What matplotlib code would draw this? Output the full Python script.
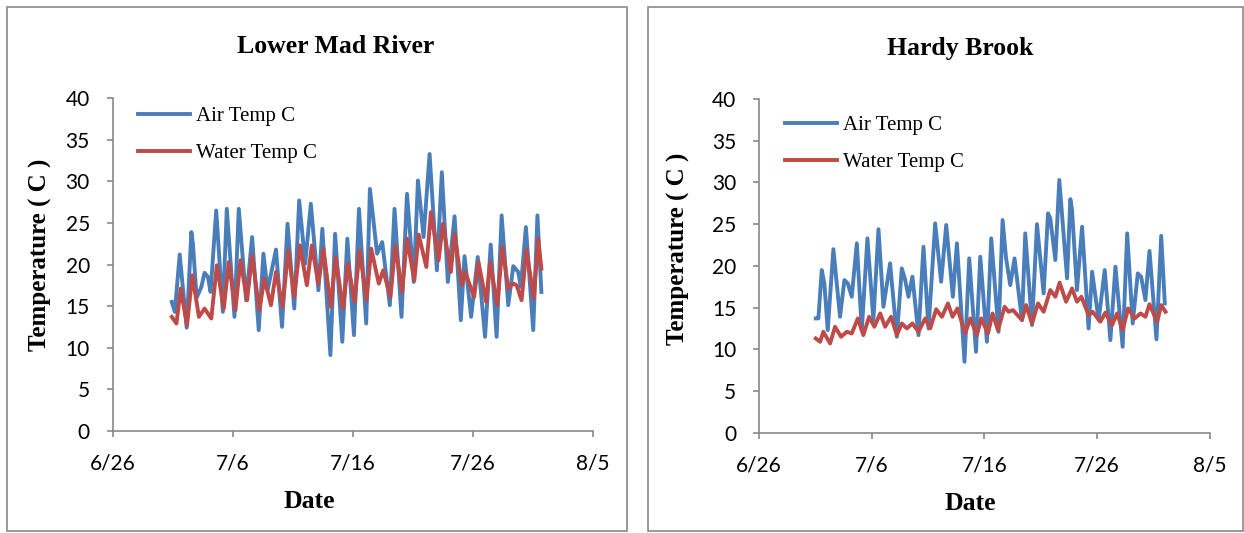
import matplotlib
matplotlib.use("Agg")
import matplotlib.pyplot as plt
from matplotlib.patches import Rectangle

# days after 6/26 (peaks and troughs)
lmr_air_day = [4.92, 5.17, 5.58, 6.16, 6.55, 6.68, 6.99, 7.38, 7.65, 7.93, 8.15, 8.62, 9.17, 9.50,
               10.14, 10.50, 11.11, 11.61, 12.16, 12.55, 12.90, 13.60, 14.10, 14.56, 15.12, 15.53,
               16.03, 16.50, 17.13, 17.46, 18.13, 18.52, 19.12, 19.54, 20.09, 20.51, 21.11, 21.42,
               22.02, 22.44, 23.08, 23.47, 24.05, 24.51, 25.07, 25.42, 25.89, 26.39, 27.00, 27.41,
               27.91, 28.47, 28.99, 29.30, 29.85, 30.40, 31.01, 31.48, 31.97, 32.39, 32.94, 33.36,
               33.77, 33.99, 34.41, 35.02, 35.37, 35.70]
lmr_air_temp = [15.5, 14.3, 21.2, 12.4, 23.9, 22.5, 16.0, 17.3, 19.0, 18.5, 16.7, 26.5, 14.3, 26.7,
                13.7, 26.7, 15.7, 23.3, 12.1, 21.3, 16.9, 21.8, 12.5, 24.9, 14.7, 27.7,
                20.1, 27.3, 16.9, 24.3, 9.1, 23.7, 10.7, 23.1, 11.5, 26.7, 12.9, 29.1,
                21.3, 22.7, 15.1, 26.7, 13.7, 28.5, 17.9, 30.1, 23.3, 33.3, 19.3, 31.1,
                17.9, 25.8, 13.3, 21.0, 13.7, 20.9, 11.3, 22.4, 11.3, 25.9, 15.1, 19.8,
                19.1, 17.3, 24.5, 12.1, 25.9, 16.7]

lmr_water_day = [4.92, 5.31, 5.66, 6.19, 6.63, 7.18, 7.65, 8.21, 8.67, 9.25, 9.67, 10.22, 10.64,
                 11.19, 11.61, 12.21, 12.63, 13.18, 13.60, 14.15, 14.62, 15.12, 15.59, 16.17,
                 16.58, 17.13, 17.55, 18.16, 18.57, 19.18, 19.59, 20.15, 20.56, 21.14, 21.53,
                 22.16, 22.52, 23.13, 23.54, 24.10, 24.51, 25.12, 25.48, 26.12, 26.50, 27.14,
                 27.50, 28.16, 28.47, 29.07, 29.35, 30.10, 30.46, 31.10, 31.43, 32.03, 32.45,
                 32.94, 33.36, 33.64, 34.05, 34.46, 35.07, 35.43, 35.70]
lmr_water_temp = [13.7, 12.9, 17.1, 12.7, 18.7, 13.7, 14.7, 13.5, 19.9, 14.7, 20.3, 14.5, 20.5,
                  15.7, 21.1, 14.5, 18.3, 15.1, 19.1, 14.9, 21.7, 16.1, 22.3, 17.5,
                  22.3, 17.7, 21.9, 14.9, 20.9, 14.7, 20.1, 15.5, 21.7, 15.7, 21.9,
                  17.7, 19.3, 16.1, 22.3, 16.7, 23.1, 18.1, 23.6, 19.7, 26.3, 20.5,
                  24.9, 19.1, 23.7, 17.5, 19.1, 16.1, 20.3, 15.5, 20.3, 15.1, 22.1,
                  17.1, 17.7, 17.5, 15.7, 21.8, 15.9, 23.1, 19.5]

hb_air_day = [5.04, 5.27, 5.57, 5.80, 6.10, 6.60, 7.19, 7.58, 7.88, 8.23, 8.68, 9.12, 9.62, 10.15,
              10.60, 11.04, 11.63, 12.23, 12.67, 12.97, 13.26, 13.61, 14.15, 14.59, 15.04, 15.63,
              16.16, 16.61, 17.20, 17.56, 18.23, 18.65, 19.25, 19.63, 20.22, 20.60, 21.25, 21.61,
              21.91, 22.29, 22.67, 23.33, 23.62, 24.22, 24.66, 25.25, 25.64, 25.84, 26.29, 26.64,
              27.33, 27.62, 27.77, 28.21, 28.66, 29.24, 29.55, 30.13, 30.67, 31.17, 31.62, 32.26,
              32.66, 33.15, 33.60, 33.90, 34.28, 34.64, 35.26, 35.68, 36.00]
hb_air_temp = [13.7, 13.7, 19.5, 17.9, 12.3, 22.0, 13.9, 18.3, 17.9, 16.3, 22.7, 12.3, 23.3, 13.5,
               24.4, 15.1, 20.3, 11.5, 19.7, 18.3, 16.3, 18.7, 11.7, 22.3, 12.5, 25.1,
               18.1, 24.9, 16.3, 22.7, 8.5, 20.9, 9.7, 21.1, 10.9, 23.3, 12.1, 25.5,
               21.0, 17.7, 20.9, 13.5, 23.9, 12.9, 25.0, 16.7, 26.3, 25.7, 20.7, 30.3,
               18.5, 28.0, 26.7, 17.1, 24.7, 12.5, 19.3, 13.5, 19.5, 11.1, 19.9, 10.3,
               23.9, 13.1, 19.1, 18.7, 15.9, 21.8, 11.2, 23.6, 15.5]

hb_water_day = [5.04, 5.42, 5.71, 6.31, 6.75, 7.28, 7.79, 8.23, 8.77, 9.26, 9.77, 10.24, 10.75,
                11.19, 11.72, 12.23, 12.67, 13.12, 13.61, 14.15, 14.74, 15.19, 15.72, 16.23,
                16.76, 17.17, 17.61, 18.29, 18.74, 19.33, 19.72, 20.31, 20.72, 21.20, 21.79,
                22.14, 22.53, 23.33, 23.69, 24.22, 24.75, 25.25, 25.84, 26.29, 26.67, 27.24,
                27.77, 28.21, 28.60, 29.24, 29.60, 30.28, 30.73, 31.32, 31.77, 32.26, 32.74,
                33.33, 33.84, 34.28, 34.64, 35.32, 35.68, 36.06]
hb_water_temp = [11.3, 10.9, 12.1, 10.7, 12.7, 11.5, 12.1, 11.9, 13.7, 11.7, 13.9, 12.7, 14.3,
                 12.7, 13.9, 11.7, 13.1, 12.5, 13.1, 12.1, 13.7, 12.5, 14.8, 13.9,
                 15.5, 13.9, 14.9, 11.9, 13.7, 11.7, 13.7, 11.9, 14.3, 12.3, 15.1,
                 14.5, 14.7, 13.5, 15.3, 13.1, 15.5, 14.5, 17.1, 16.3, 18.0, 15.7,
                 17.3, 15.7, 16.3, 14.1, 14.5, 13.3, 14.4, 12.9, 14.3, 12.3, 14.9,
                 13.7, 14.3, 13.9, 15.4, 13.3, 15.3, 14.5]

tick_days = [0, 10, 20, 30, 40]
tick_labels = ["6/26", "7/6", "7/16", "7/26", "8/5"]

BLUE = "#4A7EBB"
RED = "#BE4B48"
GREY = "#898989"
SERIF = "Liberation Serif"

plt.rcParams["font.family"] = "Lato"

fig = plt.figure(figsize=(12.44, 5.33), dpi=100)

# panel borders
for x0, w in [(0.0056, 0.4984), (0.5212, 0.4777)]:
    fig.patches.append(Rectangle((x0, 0.003), w, 0.984, transform=fig.transFigure,
                                 fill=False, edgecolor=GREY, linewidth=1.2))

panels = [
    dict(rect=[0.0906, 0.1919, 0.3861, 0.6237], title="Lower Mad River",
         air=(lmr_air_day, lmr_air_temp), water=(lmr_water_day, lmr_water_temp),
         title_xy=(0.465, 1.155), xlab_xy=(0.409, -0.214), ylab_xy=(-0.151, 0.530),
         leg_xy=(0.053, 0.975)),
    dict(rect=[0.6101, 0.1882, 0.3625, 0.6259], title="Hardy Brook",
         air=(hb_air_day, hb_air_temp), water=(hb_water_day, hb_water_temp),
         title_xy=(0.446, 1.153), xlab_xy=(0.468, -0.211), ylab_xy=(-0.178, 0.551),
         leg_xy=(0.058, 0.951)),
]

for p in panels:
    ax = fig.add_axes(p["rect"])
    ax.plot(p["air"][0], p["air"][1], color=BLUE, linewidth=2.8, label="Air Temp C")
    ax.plot(p["water"][0], p["water"][1], color=RED, linewidth=2.8, label="Water Temp C")

    ax.set_xlim(0, 40)
    ax.set_ylim(0, 40)
    ax.set_xticks(tick_days)
    ax.set_xticklabels(tick_labels)
    ax.set_yticks(range(0, 41, 5))

    for side in ["top", "right"]:
        ax.spines[side].set_visible(False)
    for side in ["left", "bottom"]:
        ax.spines[side].set_color(GREY)
        ax.spines[side].set_linewidth(1.2)
    ax.tick_params(direction="out", length=4.5, width=1.2, color=GREY,
                   labelsize=15, pad=12)

    ax.set_title(p["title"], family=SERIF, fontsize=18.5, fontweight="bold",
                 x=p["title_xy"][0], y=p["title_xy"][1], va="center", pad=0)
    ax.set_xlabel("Date", family=SERIF, fontsize=18.5, fontweight="bold", va="center")
    ax.xaxis.set_label_coords(*p["xlab_xy"])
    ax.set_ylabel("Temperature ( C )", family=SERIF, fontsize=18, fontweight="bold", va="center")
    ax.yaxis.set_label_coords(*p["ylab_xy"])

    ax.legend(loc="upper left", bbox_to_anchor=p["leg_xy"], frameon=False,
              prop={"family": SERIF, "size": 15}, handlelength=2.5, handletextpad=0.3,
              labelspacing=0.85, borderpad=0, borderaxespad=0)

fig.savefig("out.png", dpi=100)
